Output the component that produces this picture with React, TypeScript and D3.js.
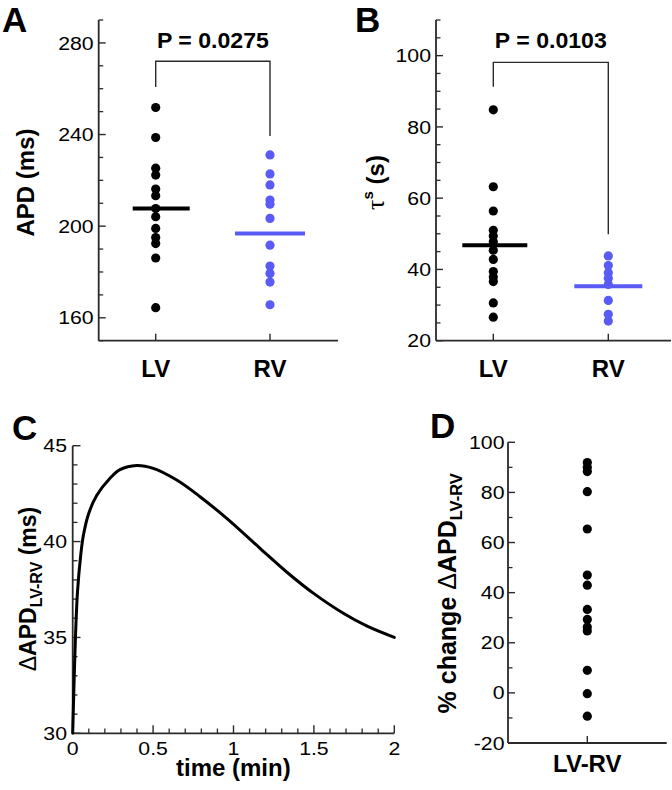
import React from 'react';
import * as d3 from 'd3';

const FONT = "'Liberation Sans', Arial, Helvetica, sans-serif";
const BLUE = '#5a5af5';
const AX = '#2a2a2a';

// ---------- data ----------
const groups = ['LV', 'RV'];

// Panel A: APD (ms)
const apdLV = [251.8, 238.7, 225.3, 222.3, 216.2, 213.3, 207.7, 204.1, 199.0, 195.0, 192.4, 186.1, 164.4];
const apdRV = [231.1, 222.8, 218.0, 211.4, 209.6, 203.4, 191.7, 182.6, 179.3, 175.6, 165.7];
const apdMeans = [207.7, 196.8];
const apdBracket = [260.7, 272.0, 239.4]; // LV end, top, RV end
const apdTicks = [160, 200, 240, 280];
const apdP = 'P = 0.0275';

// Panel B: tau^s (s)
const tauLV = [84.8, 63.2, 56.4, 51.0, 49.4, 47.8, 45.4, 42.8, 39.4, 37.9, 36.6, 30.6, 26.6];
const tauRV = [43.8, 41.1, 39.1, 37.5, 35.8, 31.3, 27.4, 25.5];
const tauMeans = [46.8, 35.3];
const tauBracket = [91.3, 98.1, 49.9];
const tauTicks = [20, 40, 60, 80, 100];
const tauP = 'P = 0.0103';

// Panel C: ΔAPD LV-RV time course
const timeMin = [0, 0.008, 0.018, 0.03, 0.05, 0.066, 0.097, 0.149, 0.232, 0.294, 0.398, 0.501, 0.647, 0.792, 0.958, 1.165, 1.351, 1.496, 1.683, 1.828, 2.0];
const dApd = [30, 32.5, 35.2, 37.4, 39.3, 40.3, 41.4, 42.4, 43.3, 43.75, 43.97, 43.82, 43.21, 42.34, 41.21, 39.65, 38.27, 37.31, 36.26, 35.6, 35.0];
const cXTicks = [0, 0.5, 1, 1.5, 2];
const cYTicks = [30, 35, 40, 45];

// Panel D: % change ΔAPD LV-RV
const pctGroup = ['LV-RV'];
const pctChange = [91.9, 90.0, 88.3, 80.3, 65.4, 47.0, 43.0, 33.3, 29.3, 26.3, 24.7, 9.0, -0.3, -9.3];
const dTicks = [-20, 0, 20, 40, 60, 80, 100];

// ---------- helpers ----------
type TP = {
  x: number; y: number; children: React.ReactNode; size?: number; anchor?: string;
  weight?: number | string; sx?: number; rot?: number; fill?: string; family?: string;
};
function Txt({ x, y, children, size = 20, anchor = 'middle', weight = 400, sx = 1, rot = 0, fill = '#000', family = FONT }: TP) {
  return (
    <text
      transform={`translate(${x},${y}) rotate(${rot}) scale(${sx},1)`}
      fontSize={size}
      textAnchor={anchor as any}
      fontWeight={weight as any}
      fill={fill}
      fontFamily={family}
    >
      {children}
    </text>
  );
}

const TICK_SIZE = 18.5;
const TICK_SX = 1.15;

function YAxis({ scale, x, major, minor, fmt = (v: number) => String(v), labelDx = -5, majorLen = 7, minorLen = 4.5 }: any) {
  const r = scale.range();
  return (
    <g>
      <line x1={x} x2={x} y1={r[0]} y2={r[1]} stroke={AX} strokeWidth={1.8} />
      {minor.filter((v: number) => !major.includes(v)).map((v: number) => (
        <line key={'m' + v} x1={x} x2={x + minorLen} y1={scale(v)} y2={scale(v)} stroke={AX} strokeWidth={1.3} />
      ))}
      {major.map((v: number) => (
        <g key={'M' + v}>
          <line x1={x} x2={x + majorLen} y1={scale(v)} y2={scale(v)} stroke={AX} strokeWidth={1.4} />
          <Txt x={x + labelDx} y={scale(v) + 6.6} anchor="end" size={TICK_SIZE} sx={TICK_SX}>{fmt(v)}</Txt>
        </g>
      ))}
    </g>
  );
}

function Bracket({ x, y, vals, p }: any) {
  const [a, b] = x.domain();
  const xa = x(a), xb = x(b);
  const path = `M${xa},${y(vals[0])}V${y(vals[1])}H${xb}V${y(vals[2])}`;
  return (
    <g>
      <path d={path} fill="none" stroke={AX} strokeWidth={1.4} />
      <Txt x={(xa + xb) / 2} y={48.3} size={22} weight={700} sx={1.05}>{p}</Txt>
    </g>
  );
}

function DotPanel({ x, y, lv, rv, means, meanExt }: any) {
  const sets = [lv, rv];
  const cols = ['#000', BLUE];
  return (
    <g>
      {sets.map((vals: number[], i: number) => (
        <g key={i}>
          {vals.map((v, j) => (
            <circle key={j} cx={x(groups[i])} cy={y(v)} r={4.6} fill={cols[i]} />
          ))}
          <line
            x1={x(groups[i]) + meanExt[i][0]}
            x2={x(groups[i]) + meanExt[i][1]}
            y1={y(means[i])}
            y2={y(means[i])}
            stroke={cols[i]}
            strokeWidth={4}
          />
        </g>
      ))}
    </g>
  );
}

export default function App() {
  // Panel A
  const xA = d3.scalePoint<string>().domain(groups).range([155.7, 270]);
  const yA = d3.scaleLinear().domain([150, 290]).range([340.7, 20]);
  // Panel B
  const xB = d3.scalePoint<string>().domain(groups).range([493.3, 608.3]);
  const yB = d3.scaleLinear().domain([20, 110]).range([340.7, 20]);
  // Panel C
  const xC = d3.scaleLinear().domain([0, 2]).range([72.7, 394.3]);
  const yC = d3.scaleLinear().domain([30, 45]).range([733.3, 445.7]);
  // Panel D
  const xD = d3.scalePoint<string>().domain(pctGroup).range([587.3, 587.3]);
  const yD = d3.scaleLinear().domain([-20, 100]).range([743, 442.3]);

  const line = d3
    .line<number>()
    .x((_, i) => xC(timeMin[i]))
    .y((d) => yC(d))
    .curve(d3.curveCatmullRom.alpha(0.5));

  const baseA = yA.range()[0];
  const baseB = yB.range()[0];
  const baseC = yC.range()[0];
  const baseD = yD.range()[0];

  return (
    <svg width={672} height={790} style={{ position: 'absolute', left: 0, top: 0, background: '#fff' }} fontFamily={FONT}>
      <rect x={0} y={0} width={672} height={790} fill="#fff" />

      {/* ---------------- Panel A ---------------- */}
      <Txt x={2} y={31.7} size={35} weight={700} anchor="start">A</Txt>
      <YAxis scale={yA} x={98.7} major={apdTicks} minor={d3.range(150, 291, 10)} />
      <line x1={98.7} x2={338} y1={baseA} y2={baseA} stroke={AX} strokeWidth={1.8} />
      {groups.map((g) => (
        <g key={g}>
          <line x1={xA(g)} x2={xA(g)} y1={baseA} y2={baseA - 7} stroke={AX} strokeWidth={1.4} />
          <Txt x={xA(g)!} y={376.7} size={24} weight={700}>{g}</Txt>
        </g>
      ))}
      <Txt x={33.5} y={182.5} size={24} weight={700} rot={-90}>APD (ms)</Txt>
      <Bracket x={xA} y={yA} vals={apdBracket} p={apdP} />
      <DotPanel x={xA} y={yA} lv={apdLV} rv={apdRV} means={apdMeans} meanExt={[[-23, 34], [-35, 35]]} />

      {/* ---------------- Panel B ---------------- */}
      <Txt x={355} y={31.7} size={35} weight={700} anchor="start">B</Txt>
      <YAxis scale={yB} x={436} major={tauTicks} minor={d3.range(20, 111, 5)} />
      <line x1={436} x2={671} y1={baseB} y2={baseB} stroke={AX} strokeWidth={1.8} />
      {groups.map((g) => (
        <g key={g}>
          <line x1={xB(g)} x2={xB(g)} y1={baseB} y2={baseB - 7} stroke={AX} strokeWidth={1.4} />
          <Txt x={xB(g)!} y={376.7} size={24} weight={700}>{g}</Txt>
        </g>
      ))}
      <text transform="translate(384,182.5) rotate(-90)" textAnchor="middle" fontFamily={FONT} fontSize={24} fontWeight={700}>
        <tspan fontFamily="'Liberation Serif', serif" fontWeight={400} fontSize={26}>τ</tspan>
        <tspan fontSize={15} dy={-11}>s</tspan>
        <tspan dy={11}> (s)</tspan>
      </text>
      <Bracket x={xB} y={yB} vals={tauBracket} p={tauP} />
      <DotPanel x={xB} y={yB} lv={tauLV} rv={tauRV} means={tauMeans} meanExt={[[-31, 34], [-34, 34]]} />

      {/* ---------------- Panel C ---------------- */}
      <Txt x={12} y={440} size={35} weight={700} anchor="start">C</Txt>
      <line x1={72.7} x2={72.7} y1={yC.range()[0]} y2={yC.range()[1]} stroke={AX} strokeWidth={1.8} />
      <line x1={72.7} x2={394.3} y1={baseC} y2={baseC} stroke={AX} strokeWidth={1.8} />
      {d3.range(30, 45.5, 1).filter((v) => !cYTicks.includes(v)).map((v) => (
        <line key={'cym' + v} x1={72.7} x2={77.5} y1={yC(v)} y2={yC(v)} stroke={AX} strokeWidth={1.3} />
      ))}
      {cYTicks.map((v) => (
        <g key={'cy' + v}>
          <line x1={72.7} x2={80.5} y1={yC(v)} y2={yC(v)} stroke={AX} strokeWidth={1.4} />
          <Txt x={67} y={yC(v) + 6.6} anchor="end" size={TICK_SIZE} sx={TICK_SX}>{v}</Txt>
        </g>
      ))}
      {d3.range(0, 20.5, 1).map((i) => i / 10).filter((v) => !cXTicks.includes(v)).map((v) => (
        <line key={'cxm' + v} x1={xC(v)} x2={xC(v)} y1={baseC} y2={baseC - 4.8} stroke={AX} strokeWidth={1.3} />
      ))}
      {cXTicks.map((v) => (
        <g key={'cx' + v}>
          <line x1={xC(v)} x2={xC(v)} y1={baseC} y2={baseC - 8} stroke={AX} strokeWidth={1.4} />
          <Txt x={xC(v)} y={755} size={TICK_SIZE} sx={TICK_SX}>{v}</Txt>
        </g>
      ))}
      <path d={line(dApd) || ''} fill="none" stroke="#000" strokeWidth={3} strokeLinejoin="round" strokeLinecap="round" />
      <Txt x={233.3} y={776} size={24} weight={700}>time (min)</Txt>
      <text transform="translate(36,589) rotate(-90)" textAnchor="middle" fontFamily={FONT} fontSize={23} fontWeight={700}>
        <tspan fontWeight={400}>Δ</tspan>
        <tspan>APD</tspan>
        <tspan fontSize={16} dy={6}>LV-RV</tspan>
        <tspan dy={-6}> (ms)</tspan>
      </text>

      {/* ---------------- Panel D ---------------- */}
      <Txt x={430} y={438} size={35} weight={700} anchor="start">D</Txt>
      <YAxis scale={yD} x={508} major={dTicks} minor={d3.range(-20, 101, 10)} labelDx={-3.5} />
      <line x1={508} x2={666.7} y1={baseD} y2={baseD} stroke={AX} strokeWidth={1.8} />
      <line x1={xD('LV-RV')} x2={xD('LV-RV')} y1={baseD} y2={baseD - 7} stroke={AX} strokeWidth={1.4} />
      <Txt x={xD('LV-RV')!} y={771.7} size={24} weight={700}>LV-RV</Txt>
      {pctChange.map((v, i) => (
        <circle key={i} cx={xD('LV-RV')} cy={yD(v)} r={4.6} fill="#000" />
      ))}
      <text transform="translate(456,593.3) rotate(-90)" textAnchor="middle" fontFamily={FONT} fontSize={25} fontWeight={700}>
        <tspan>% change </tspan>
        <tspan fontWeight={400}>Δ</tspan>
        <tspan>APD</tspan>
        <tspan fontSize={16.5} dy={6}>LV-RV</tspan>
      </text>
    </svg>
  );
}
